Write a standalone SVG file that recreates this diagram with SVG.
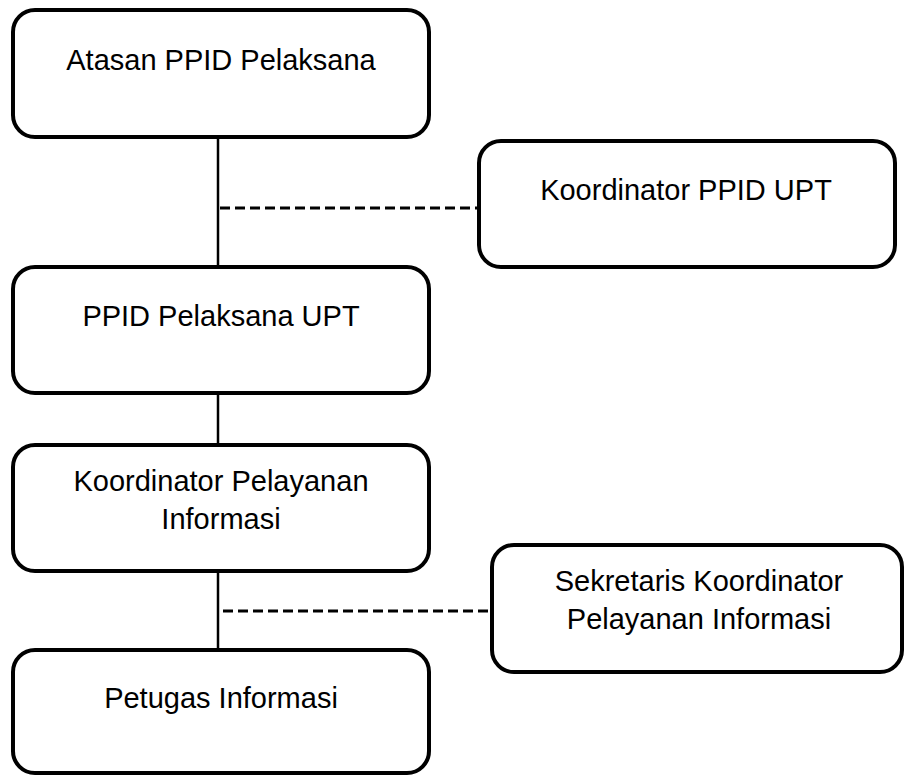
<svg xmlns="http://www.w3.org/2000/svg" width="906" height="777" viewBox="0 0 906 777">
<style>
.box{fill:#fff;stroke:#000;stroke-width:4}
.t{font-family:"Liberation Sans",Arial,sans-serif;font-size:29px;fill:#000;text-anchor:middle}
.solid{stroke:#000;stroke-width:2.5;fill:none}
.dash{stroke:#000;stroke-width:3;fill:none;stroke-dasharray:10 5}
</style>
<rect width="906" height="777" fill="#fff"/>
<g id="connectors">
<line class="solid" x1="218" y1="137" x2="218" y2="267"/>
<line class="solid" x1="218" y1="393" x2="218" y2="445"/>
<line class="solid" x1="218" y1="571" x2="218" y2="650"/>
<line class="dash" x1="220" y1="208" x2="478" y2="208"/>
<line class="dash" x1="223" y1="611" x2="492" y2="611"/>
</g>
<g id="atasan">
<rect class="box" x="13" y="10" width="416" height="127" rx="22"/>
<text class="t" x="221" y="70">Atasan PPID Pelaksana</text>
</g>
<g id="koordinator-ppid">
<rect class="box" x="479" y="141" width="416" height="126" rx="22"/>
<text class="t" x="686" y="200">Koordinator PPID UPT</text>
</g>
<g id="ppid-pelaksana">
<rect class="box" x="13" y="267" width="416" height="126" rx="22"/>
<text class="t" x="221" y="326">PPID Pelaksana UPT</text>
</g>
<g id="koordinator-pelayanan">
<rect class="box" x="13" y="445" width="416" height="126" rx="22"/>
<text class="t" x="221" y="491">Koordinator Pelayanan</text>
<text class="t" x="221" y="529">Informasi</text>
</g>
<g id="sekretaris">
<rect class="box" x="492" y="545" width="410" height="127" rx="22"/>
<text class="t" x="699" y="591">Sekretaris Koordinator</text>
<text class="t" x="699" y="629">Pelayanan Informasi</text>
</g>
<g id="petugas">
<rect class="box" x="13" y="650" width="416" height="123" rx="22"/>
<text class="t" x="221" y="708">Petugas Informasi</text>
</g>
</svg>
